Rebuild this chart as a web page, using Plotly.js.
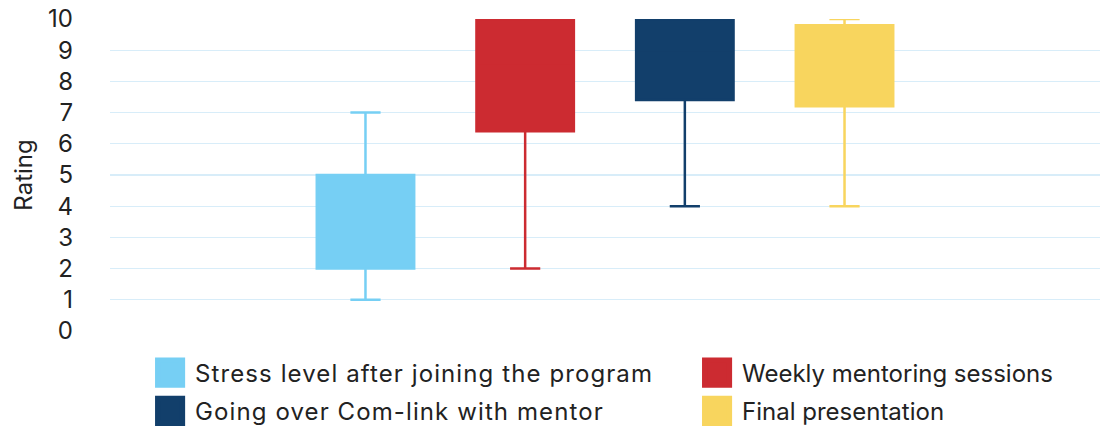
<!DOCTYPE html>
<html>
<head>
<meta charset="utf-8">
<script src="https://cdn.plot.ly/plotly-3.0.1.min.js"></script>
<style>html,body{margin:0;padding:0;background:#fff}#chart{width:1106px;height:427px}
.legendtext{letter-spacing:1.1px}</style>
</head>
<body>
<div id="chart"></div>
<script>
const seriesNames = ["Stress level after joining the program", "Weekly mentoring sessions", "Going over Com-link with mentor", "Final presentation"];
const positions = [0, 1, 2, 3];
const lowerWhisker = [1, 2, 4, 4];
const q1Values = [2, 6.4, 7.4, 7.2];
const medianValues = [3.5, 8.5, 9, 8.5];
const q3Values = [5, 10, 10, 9.8];
const upperWhisker = [7, 10, 10, 10];
const colors = ["#76CFF4", "#CC2B31", "#123F6B", "#F8D55E"];
const legendColumn = ["legend", "legend2", "legend", "legend2"];
const yTicks = [0,1,2,3,4,5,6,7,8,9,10];

const traces = seriesNames.map((name, i) => ({
  type: "box",
  name: name,
  x: [positions[i]],
  q1: [q1Values[i]],
  median: [medianValues[i]],
  q3: [q3Values[i]],
  lowerfence: [lowerWhisker[i]],
  upperfence: [upperWhisker[i]],
  width: 0.61,
  whiskerwidth: 0.31,
  fillcolor: colors[i],
  line: {color: colors[i], width: 2.5},
  legend: legendColumn[i],
  legendgroup: "g" + i,
  hoverinfo: "skip"
}));

const legendBase = {orientation: "v", xanchor: "left", y: -0.0625, yanchor: "top",
  font: {size: 24, color: "#222"}, traceorder: "grouped", tracegroupgap: 4, bgcolor: "rgba(0,0,0,0)"};

const layout = {
  width: 1106, height: 427,
  margin: {l: 110, r: 6, t: 19, b: 96, autoexpand: false},
  paper_bgcolor: "#fff", plot_bgcolor: "#fff",
  font: {family: "Inter, Roboto, sans-serif", color: "#222", size: 24},
  showlegend: true,
  legend: Object.assign({}, legendBase, {x: 0.0455}),
  legend2: Object.assign({}, legendBase, {x: 0.598}),
  xaxis: {range: [-1.6, 4.6], showticklabels: false, showgrid: false, zeroline: false, showline: false, ticks: ""},
  yaxis: {range: [0, 10], tickvals: yTicks, ticktext: yTicks.map(String), showgrid: true, gridcolor: "#D8EDF9", gridwidth: 1.3,
          zeroline: false, showline: false, ticks: "", ticklabelstandoff: 36,
          tickfont: {size: 24, color: "#222"},
          title: {text: "Rating", font: {size: 24, color: "#222"}, standoff: 8}}
};

Plotly.newPlot("chart", traces, layout, {displayModeBar: false, staticPlot: true}).then(gd => {
  gd.querySelectorAll(".legendpoints path").forEach(p => {
    const t = p.getAttribute("transform") || "";
    p.setAttribute("transform", t + " translate(-5,0) scale(2.08)");
  });
});
</script>
</body>
</html>
